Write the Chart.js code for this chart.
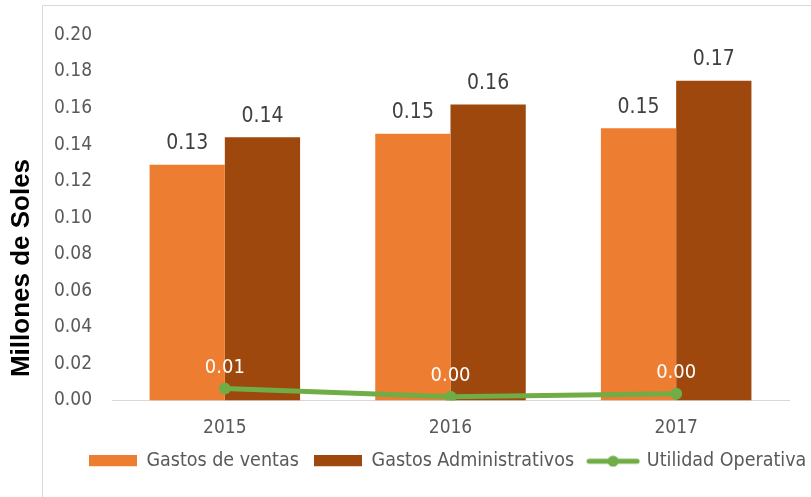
<!DOCTYPE html>
<html>
<head>
<meta charset="utf-8">
<script src="https://cdn.jsdelivr.net/npm/chart.js@4.4.0/dist/chart.umd.min.js"></script>
<style>
  html, body { margin: 0; padding: 0; overflow: hidden; background: #fff; }
  #wrap { position: absolute; left: 0; top: 0; width: 895px; height: 497px; }
</style>
</head>
<body>
<div id="wrap"><canvas id="my-chart"></canvas></div>
<script>
'use strict';

let years = ['2015', '2016', '2017'];
let gastosVentas = [0.129, 0.146, 0.149];
let gastosAdmin = [0.144, 0.162, 0.175];
let utilidadOp = [0.0065, 0.002, 0.0037];
let yTicks = [0, 0.02, 0.04, 0.06, 0.08, 0.10, 0.12, 0.14, 0.16, 0.18, 0.20];
let yTitle = 'Millones de Soles';

let fontName = '"DejaVu Sans Condensed", "DejaVu Sans", sans-serif';

function legendSwatch(kind, color) {
  let c = document.createElement('canvas');
  c.width = kind === 'line' ? 54 : 48;
  c.height = 12;
  let ctx = c.getContext('2d');
  if (kind === 'line') {
    ctx.strokeStyle = color;
    ctx.lineWidth = 5;
    ctx.lineCap = 'round';
    ctx.beginPath();
    ctx.moveTo(3, 6);
    ctx.lineTo(51, 6);
    ctx.stroke();
    ctx.fillStyle = color;
    ctx.beginPath();
    ctx.arc(27, 6, 5.5, 0, Math.PI * 2);
    ctx.fill();
  } else {
    ctx.fillStyle = color;
    ctx.fillRect(0, 0, 48, 11);
  }
  return c;
}

// chart frame (light border of the original box) + y title outside it
let framePlugin = {
  id: 'frame',
  beforeDraw(chart) {
    let ctx = chart.ctx;
    ctx.save();
    ctx.strokeStyle = '#d9d9d9';
    ctx.lineWidth = 1;
    ctx.beginPath();
    ctx.moveTo(42.5, chart.height);
    ctx.lineTo(42.5, 5.5);
    ctx.lineTo(chart.width, 5.5);
    ctx.stroke();

    ctx.translate(22, 268);
    ctx.rotate(-Math.PI / 2);
    ctx.fillStyle = '#000000';
    ctx.font = 'bold 26px "Liberation Sans", Arial, sans-serif';
    ctx.textAlign = 'center';
    ctx.textBaseline = 'middle';
    ctx.fillText(yTitle, 0, 0);
    ctx.restore();
  }
};

// value labels above bars and points
let valueLabels = {
  id: 'valueLabels',
  afterDatasetsDraw(chart) {
    let ctx = chart.ctx;
    ctx.save();
    ctx.textAlign = 'center';
    ctx.textBaseline = 'middle';
    chart.data.datasets.forEach(function (ds, i) {
      let meta = chart.getDatasetMeta(i);
      meta.data.forEach(function (el, j) {
        let txt = ds.data[j].toFixed(2);
        if (ds.type === 'line') {
          ctx.fillStyle = '#ffffff';
          ctx.font = '20px ' + fontName;
          ctx.fillText(txt, el.x, el.y - 21);
        } else {
          ctx.fillStyle = '#404040';
          ctx.font = '21px ' + fontName;
          ctx.fillText(txt, el.x, el.y - 21);
        }
      });
    });
    ctx.restore();
  }
};

let canvasElem = document.getElementById('my-chart');

let chartObj = {
  type: 'bar',
  data: {
    labels: years,
    datasets: [
      {
        type: 'line',
        label: 'Utilidad Operativa',
        data: utilidadOp,
        borderColor: '#70ad47',
        backgroundColor: '#70ad47',
        borderWidth: 5,
        pointRadius: 6,
        pointBackgroundColor: '#70ad47',
        pointBorderWidth: 0,
        order: 0,
        swatch: legendSwatch('line', '#70ad47')
      },
      {
        label: 'Gastos de ventas',
        data: gastosVentas,
        backgroundColor: '#ed7d31',
        order: 1,
        swatch: legendSwatch('bar', '#ed7d31')
      },
      {
        label: 'Gastos Administrativos',
        data: gastosAdmin,
        backgroundColor: '#9e480e',
        order: 2,
        swatch: legendSwatch('bar', '#9e480e')
      }
    ]
  },
  options: {
    responsive: true,
    maintainAspectRatio: false,
    animation: false,
    layout: { padding: { top: 35, right: 0, bottom: 16, left: 0 } },
    datasets: {
      bar: { categoryPercentage: 0.667, barPercentage: 1.0 }
    },
    scales: {
      x: {
        grid: { display: false, drawTicks: false },
        border: { display: true, color: '#d9d9d9', width: 1 },
        ticks: { color: '#595959', font: { family: fontName, size: 19 }, padding: 16 },
        afterFit(scale) { scale.height = 36; }
      },
      y: {
        min: 0,
        max: 0.2,
        afterBuildTicks(scale) {
          scale.ticks = yTicks.map(function (v) { return { value: v }; });
        },
        grid: { display: false, drawTicks: false },
        border: { display: false },
        ticks: {
          color: '#595959',
          padding: 20,
          font: { family: fontName, size: 19 },
          callback(v) { return v.toFixed(2); }
        },
        afterFit(scale) { scale.width = 112; }
      },
      // empty right-hand spacer so the legend stays centred on the full box
      spacer: {
        position: 'right',
        grid: { display: false, drawTicks: false },
        border: { display: false },
        ticks: { display: false },
        afterFit(scale) { scale.width = 106; }
      }
    },
    plugins: {
      legend: {
        position: 'bottom',
        labels: {
          color: '#595959',
          font: { family: fontName, size: 19.5 },
          padding: 15,
          usePointStyle: true,
          pointStyleWidth: 48,
          generateLabels(chart) {
            let order = [1, 2, 0];
            return order.map(function (i) {
              let ds = chart.data.datasets[i];
              return {
                text: ds.label,
                pointStyle: ds.swatch,
                fillStyle: ds.backgroundColor,
                strokeStyle: ds.backgroundColor,
                lineWidth: 0,
                fontColor: '#595959',
                hidden: false,
                datasetIndex: i
              };
            });
          }
        }
      },
      tooltip: { enabled: false }
    }
  },
  plugins: [framePlugin, valueLabels]
};

new Chart(canvasElem, chartObj); //eslint-disable-line
</script>
</body>
</html>
